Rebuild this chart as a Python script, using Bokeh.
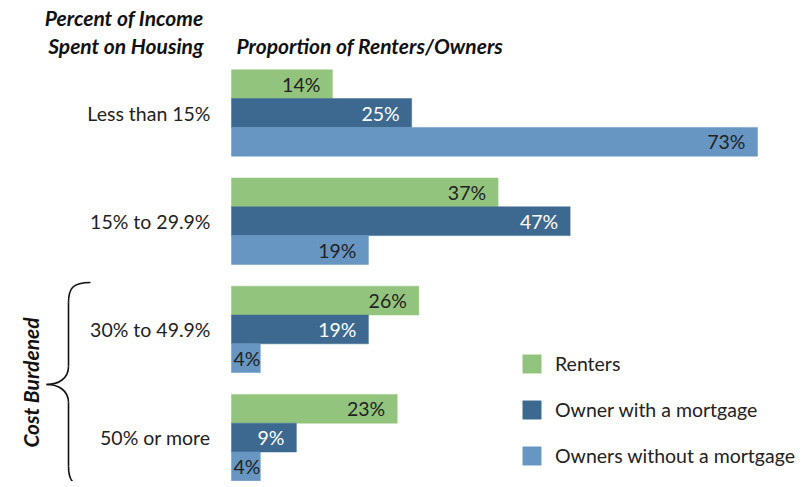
import numpy as np
from bokeh.plotting import figure
from bokeh.models import Range1d, Legend, LegendItem, Label, ColumnDataSource
from bokeh.core.properties import value
from bokeh.embed import file_html
from bokeh.resources import INLINE

categories = ["Less than 15%", "15% to 29.9%", "30% to 49.9%", "50% or more"]
series = ["Renters", "Owner with a mortgage", "Owners without a mortgage"]
renters = [14, 37, 26, 23]
with_mortgage = [25, 47, 19, 9]
without_mortgage = [73, 19, 4, 4]

colors = ["#93c47d", "#3d6991", "#6796c3"]
label_colors = ["#222222", "#ffffff", "#222222"]
FONT = "Lato"
FS = "19.5px"
HFS = "21px"

W, H = 795, 481
SX = 7.205          # px per percent
X0 = 231            # canvas px of 0%
YC0 = 112.5         # canvas px of first group centre
GAP = 108.2         # px between groups
BH = 28.8 / GAP     # bar height in group units

def X(px):   # canvas px -> data x
    return (px - X0) / SX

def Y(py):   # canvas px -> data y
    return (py - YC0) / GAP

p = figure(width=W, height=H, output_backend="svg", toolbar_location=None,
           x_range=Range1d(X(0), X(W)), y_range=Range1d(Y(H), Y(0)),
           x_axis_location=None, y_axis_location=None, min_border=0)
p.grid.visible = False
p.outline_line_color = None
p.background_fill_color = "white"

idx = np.arange(len(categories))
renderers = []
for k, (name, vals) in enumerate(zip(series, [renters, with_mortgage, without_mortgage])):
    ys = idx + (k - 1) * BH
    src = ColumnDataSource(dict(y=ys, right=vals,
                                txt=[f"{v}%" for v in vals],
                                off=[-12 if v >= 8 else 0 for v in vals]))
    r = p.hbar(y="y", left=0, right="right", height=BH, source=src,
               fill_color=colors[k], line_color=colors[k], line_width=0.5)
    renderers.append(r)
    p.text(x="right", y="y", text="txt", x_offset="off", source=src,
           text_align="right", text_baseline="middle",
           text_font=value(FONT), text_font_size=FS, text_color=label_colors[k])

# category labels
p.text(x=[0] * len(categories), y=idx, text=categories, x_offset=-21,
       text_align="right", text_baseline="middle",
       text_font=value(FONT), text_font_size=FS, text_color="#222222")

# headers
for txt, px, py, align in [("Percent of Income", 203, 17, "right"),
                           ("Spent on Housing", 203, 45, "right"),
                           ("Proportion of Renters/Owners", 236, 45, "left")]:
    p.add_layout(Label(x=X(px), y=Y(py), text=txt, text_align=align, text_baseline="middle",
                       text_font=FONT, text_font_size=HFS, text_font_style="bold italic",
                       text_color="#111111"))

# brace for cost burdened
def P(px, py):
    return X(px), Y(py)
segs = [((90, 282), (68, 302), (72, 282), (68, 288)),
        ((68, 366), (46, 384), (68, 378), (58, 384)),
        ((46, 384), (68, 402), (58, 384), (68, 390)),
        ((68, 466), (90, 486), (68, 480), (72, 486))]
for (a, b, c0, c1) in segs:
    x0, y0 = P(*a); x1, y1 = P(*b); cx0, cy0 = P(*c0); cx1, cy1 = P(*c1)
    p.bezier(x0=[x0], y0=[y0], x1=[x1], y1=[y1], cx0=[cx0], cy0=[cy0], cx1=[cx1], cy1=[cy1],
             line_color="#111111", line_width=1.6)
for (ya, yb) in [(302, 366), (402, 466)]:
    p.line([X(68), X(68)], [Y(ya), Y(yb)], line_color="#111111", line_width=1.6)

p.add_layout(Label(x=X(30), y=Y(382), text="Cost Burdened", angle=np.pi / 2,
                   text_align="center", text_baseline="middle",
                   text_font=FONT, text_font_size=HFS, text_font_style="bold italic",
                   text_color="#111111"))

legend = Legend(items=[LegendItem(label=s, renderers=[r]) for s, r in zip(series, renderers)],
                location=(520, H - 467), glyph_width=23, glyph_height=23, label_standoff=12,
                spacing=23, padding=0, margin=0, border_line_color=None,
                background_fill_alpha=0, label_text_font=FONT, label_text_font_size=FS,
                label_text_color="#222222", label_height=23)
p.add_layout(legend)

open("out.html", "w").write(file_html(p, INLINE))
